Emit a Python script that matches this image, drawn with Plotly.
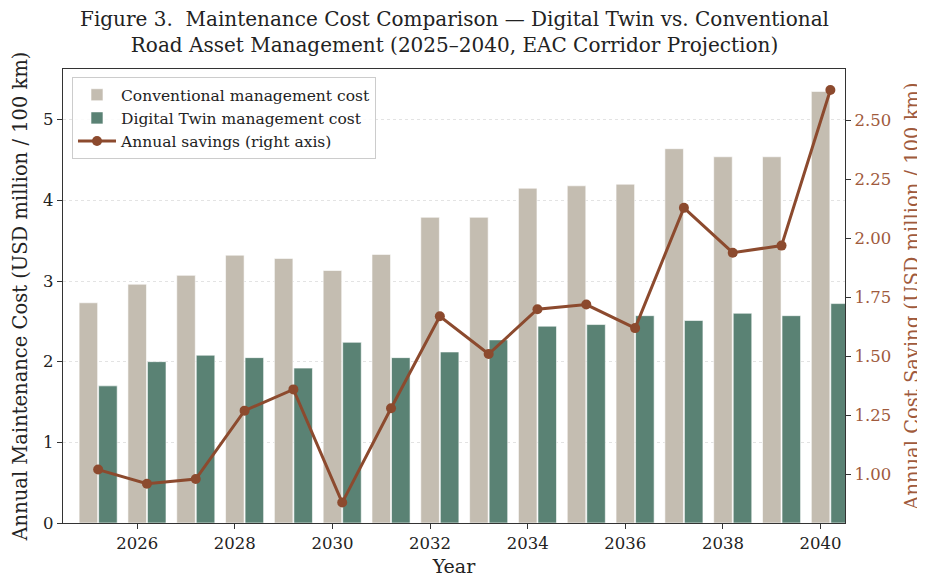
import plotly.graph_objects as go

years = list(range(2025, 2041))
conventional = [2.73, 2.96, 3.07, 3.32, 3.28, 3.13, 3.33, 3.79, 3.79, 4.15, 4.18, 4.20, 4.64, 4.54, 4.54, 5.35]
digital_twin = [1.70, 2.00, 2.08, 2.05, 1.92, 2.24, 2.05, 2.12, 2.27, 2.44, 2.46, 2.57, 2.51, 2.60, 2.57, 2.72]
savings = [1.02, 0.96, 0.98, 1.27, 1.36, 0.88, 1.28, 1.67, 1.51, 1.70, 1.72, 1.62, 2.13, 1.94, 1.97, 2.63]

title_text = ("Figure 3.  Maintenance Cost Comparison — Digital Twin vs. Conventional<br>"
              "Road Asset Management (2025–2040, EAC Corridor Projection)")

C_CONV = "#C4BDB1"
C_DT = "#5A8274"
C_LINE = "#8C4A2E"
C_RIGHT = "#A05A3C"
FONT = "DejaVu Serif"

fig = go.Figure()
fig.add_trace(go.Bar(
    x=years, y=conventional, width=0.38,
    name="Conventional management cost", marker=dict(color=C_CONV, line=dict(color="white", width=0.6)),
))
fig.add_trace(go.Bar(
    x=[y + 0.4 for y in years], y=digital_twin, width=0.38,
    name="Digital Twin management cost", marker=dict(color=C_DT, line=dict(color="white", width=0.6)),
))
fig.add_trace(go.Scatter(
    x=[y + 0.2 for y in years], y=savings, yaxis="y2", mode="lines+markers",
    name="Annual savings (right axis)",
    line=dict(color=C_LINE, width=3), marker=dict(color=C_LINE, size=10),
))

fig.update_layout(
    width=917, height=570,
    paper_bgcolor="white", plot_bgcolor="white",
    font=dict(family=FONT, size=16, color="#222222"),
    barmode="overlay",
    margin=dict(l=55, r=80, t=61, b=55, autoexpand=False),
    xaxis=dict(
        range=[2024.48, 2040.5], tickvals=list(range(2026, 2041, 2)),
        ticks="outside", ticklen=5, tickcolor="#333", showgrid=False,
        showline=True, linecolor="#333", linewidth=1.2, mirror=True,
        title=dict(text="Year", font=dict(size=19), standoff=7),
        tickfont=dict(size=16.5), automargin=False,
    ),
    yaxis=dict(
        range=[0, 5.628], tickvals=[0, 1, 2, 3, 4, 5],
        ticks="outside", ticklen=5, tickcolor="#333",
        showgrid=True, gridcolor="#E3E3E3", griddash="dot", gridwidth=1,
        showline=True, linecolor="#333", linewidth=1.2, zeroline=False,
        title=dict(text="Annual Maintenance Cost (USD million / 100 km)", font=dict(size=19.5), standoff=10),
        tickfont=dict(size=16.5), automargin=False,
    ),
    yaxis2=dict(
        overlaying="y", side="right",
        range=[0.7934, 2.719], tickvals=[1.0, 1.25, 1.5, 1.75, 2.0, 2.25, 2.5], tickformat=".2f",
        ticks="outside", ticklen=5, tickcolor="#333", showgrid=False, zeroline=False,
        showline=True, linecolor="#333", linewidth=1.2,
        title=dict(text="Annual Cost Saving (USD million / 100 km)", font=dict(size=19.5, color=C_RIGHT), standoff=15),
        tickfont=dict(size=16.5, color=C_RIGHT), automargin=False,
    ),
    legend=dict(
        x=0.0115, y=0.982, xanchor="left", yanchor="top",
        bgcolor="rgba(255,255,255,0.85)", bordercolor="#CCCCCC", borderwidth=1,
        font=dict(size=15.5), traceorder="normal", tracegroupgap=0, itemwidth=38,
    ),
    annotations=[dict(
        text=title_text, xref="paper", yref="paper", x=0.5, y=1.0,
        xanchor="center", yanchor="bottom", yshift=10, showarrow=False,
        font=dict(family=FONT, size=20, color="#222222"),
    )],
    showlegend=True,
)

fig.write_html("out.html")
